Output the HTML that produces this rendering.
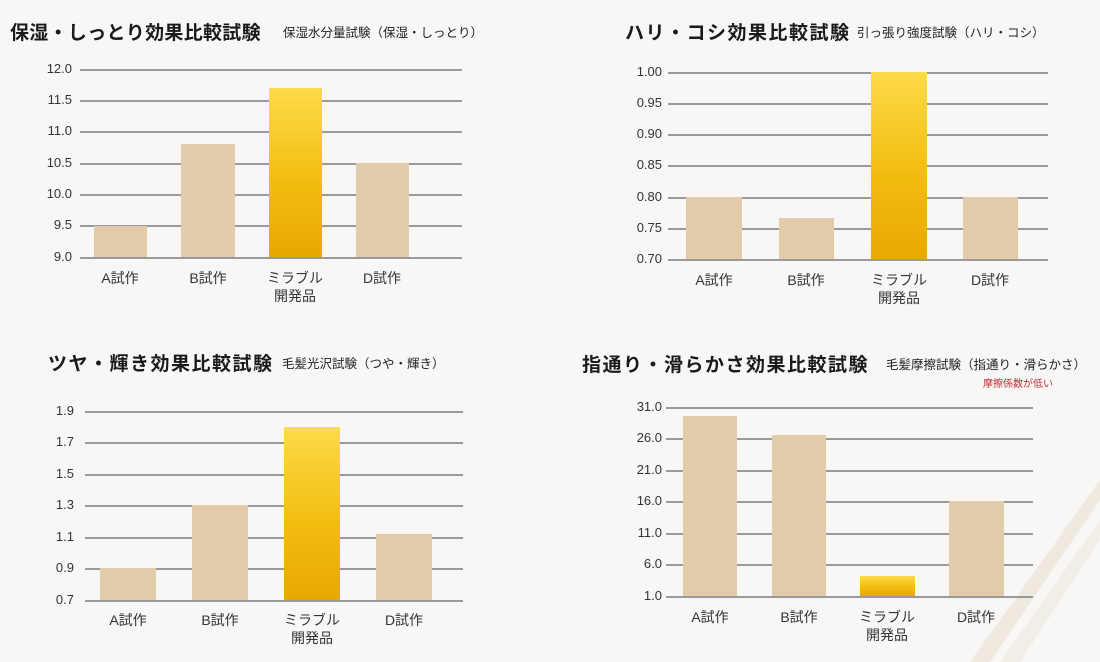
<!DOCTYPE html>
<html><head><meta charset="utf-8"><style>
body{margin:0;width:1100px;height:662px;overflow:hidden;background:#f8f7f5;position:relative;font-family:"Liberation Sans","Noto Sans CJK JP",sans-serif;color:#222}
.a{position:absolute}
.g{position:absolute;height:1.5px;background:#9a9a9a}
.t{position:absolute;font-size:13px;color:#333;text-align:right;width:40px;line-height:14px}
.b{position:absolute;background:#e2cbab}
.y{position:absolute;background:linear-gradient(#fddb4a,#f3bd10 55%,#e8a800)}
.x{position:absolute;font-size:14px;color:#333;text-align:center;width:80px;line-height:18px}
.h{position:absolute;font-size:19px;font-weight:bold;letter-spacing:1.5px;white-space:nowrap;color:#1a1a1a}
.s{position:absolute;font-size:12.5px;white-space:nowrap;color:#222}
</style></head><body>
<svg class="a" style="left:0;top:0" width="1100" height="662"><polygon points="1100,480 1100,500 990,662 970,662" fill="#efe9df"/><polygon points="1100,520 1100,540 1020,662 1000,662" fill="#f2eee7"/></svg>

<!-- TL -->
<div class="h" style="left:10px;top:18px;letter-spacing:0.3px">保湿・しっとり効果比較試験</div>
<div class="s" style="left:283px;top:22px">保湿水分量試験（保湿・しっとり）</div>
<div class="g" style="left:80px;width:382px;top:69px"></div><div class="t" style="left:32px;top:62px">12.0</div>
<div class="g" style="left:80px;width:382px;top:100px"></div><div class="t" style="left:32px;top:93px">11.5</div>
<div class="g" style="left:80px;width:382px;top:131px"></div><div class="t" style="left:32px;top:124px">11.0</div>
<div class="g" style="left:80px;width:382px;top:163px"></div><div class="t" style="left:32px;top:156px">10.5</div>
<div class="g" style="left:80px;width:382px;top:194px"></div><div class="t" style="left:32px;top:187px">10.0</div>
<div class="g" style="left:80px;width:382px;top:225px"></div><div class="t" style="left:32px;top:218px">9.5</div>
<div class="g" style="left:80px;width:382px;top:257px"></div><div class="t" style="left:32px;top:250px">9.0</div>
<div class="b" style="left:94px;width:53px;top:226px;height:31px"></div>
<div class="b" style="left:181px;width:54px;top:144px;height:113px"></div>
<div class="y" style="left:269px;width:53px;top:88px;height:169px"></div>
<div class="b" style="left:356px;width:53px;top:163px;height:94px"></div>
<div class="x" style="left:80px;top:269px">A試作</div>
<div class="x" style="left:168px;top:269px">B試作</div>
<div class="x" style="left:255px;top:269px">ミラブル<br>開発品</div>
<div class="x" style="left:342px;top:269px">D試作</div>

<!-- TR -->
<div class="h" style="left:625px;top:18px">ハリ・コシ効果比較試験</div>
<div class="s" style="left:857px;top:22px">引っ張り強度試験（ハリ・コシ）</div>
<div class="g" style="left:668px;width:380px;top:72px"></div><div class="t" style="left:622px;top:65px">1.00</div>
<div class="g" style="left:668px;width:380px;top:103px"></div><div class="t" style="left:622px;top:96px">0.95</div>
<div class="g" style="left:668px;width:380px;top:134px"></div><div class="t" style="left:622px;top:127px">0.90</div>
<div class="g" style="left:668px;width:380px;top:165px"></div><div class="t" style="left:622px;top:158px">0.85</div>
<div class="g" style="left:668px;width:380px;top:197px"></div><div class="t" style="left:622px;top:190px">0.80</div>
<div class="g" style="left:668px;width:380px;top:228px"></div><div class="t" style="left:622px;top:221px">0.75</div>
<div class="g" style="left:668px;width:380px;top:259px"></div><div class="t" style="left:622px;top:252px">0.70</div>
<div class="b" style="left:686px;width:56px;top:197px;height:62px"></div>
<div class="b" style="left:779px;width:55px;top:218px;height:41px"></div>
<div class="y" style="left:871px;width:56px;top:72px;height:187px"></div>
<div class="b" style="left:963px;width:55px;top:197px;height:62px"></div>
<div class="x" style="left:674px;top:271px">A試作</div>
<div class="x" style="left:766px;top:271px">B試作</div>
<div class="x" style="left:859px;top:271px">ミラブル<br>開発品</div>
<div class="x" style="left:950px;top:271px">D試作</div>

<!-- BL -->
<div class="h" style="left:48px;top:349px">ツヤ・輝き効果比較試験</div>
<div class="s" style="left:282px;top:353px">毛髪光沢試験（つや・輝き）</div>
<div class="g" style="left:85px;width:378px;top:411px"></div><div class="t" style="left:34px;top:404px">1.9</div>
<div class="g" style="left:85px;width:378px;top:442px"></div><div class="t" style="left:34px;top:435px">1.7</div>
<div class="g" style="left:85px;width:378px;top:474px"></div><div class="t" style="left:34px;top:467px">1.5</div>
<div class="g" style="left:85px;width:378px;top:505px"></div><div class="t" style="left:34px;top:498px">1.3</div>
<div class="g" style="left:85px;width:378px;top:537px"></div><div class="t" style="left:34px;top:530px">1.1</div>
<div class="g" style="left:85px;width:378px;top:568px"></div><div class="t" style="left:34px;top:561px">0.9</div>
<div class="g" style="left:85px;width:378px;top:600px"></div><div class="t" style="left:34px;top:593px">0.7</div>
<div class="b" style="left:100px;width:56px;top:568px;height:32px"></div>
<div class="b" style="left:192px;width:56px;top:505px;height:95px"></div>
<div class="y" style="left:284px;width:56px;top:427px;height:173px"></div>
<div class="b" style="left:376px;width:56px;top:534px;height:66px"></div>
<div class="x" style="left:88px;top:611px">A試作</div>
<div class="x" style="left:180px;top:611px">B試作</div>
<div class="x" style="left:272px;top:611px">ミラブル<br>開発品</div>
<div class="x" style="left:364px;top:611px">D試作</div>

<!-- BR -->
<div class="h" style="left:582px;top:350px">指通り・滑らかさ効果比較試験</div>
<div class="s" style="left:886px;top:354px">毛髪摩擦試験（指通り・滑らかさ）</div>
<div class="s" style="left:983px;top:375px;font-size:10px;color:#c0303a">摩擦係数が低い</div>
<div class="g" style="left:666px;width:367px;top:407px"></div><div class="t" style="left:622px;top:400px">31.0</div>
<div class="g" style="left:666px;width:367px;top:438px"></div><div class="t" style="left:622px;top:431px">26.0</div>
<div class="g" style="left:666px;width:367px;top:470px"></div><div class="t" style="left:622px;top:463px">21.0</div>
<div class="g" style="left:666px;width:367px;top:501px"></div><div class="t" style="left:622px;top:494px">16.0</div>
<div class="g" style="left:666px;width:367px;top:533px"></div><div class="t" style="left:622px;top:526px">11.0</div>
<div class="g" style="left:666px;width:367px;top:564px"></div><div class="t" style="left:622px;top:557px">6.0</div>
<div class="g" style="left:666px;width:367px;top:596px"></div><div class="t" style="left:622px;top:589px">1.0</div>
<div class="b" style="left:683px;width:54px;top:416px;height:180px"></div>
<div class="b" style="left:772px;width:54px;top:435px;height:161px"></div>
<div class="y" style="left:860px;width:55px;top:576px;height:20px"></div>
<div class="b" style="left:949px;width:55px;top:501px;height:95px"></div>
<div class="x" style="left:670px;top:608px">A試作</div>
<div class="x" style="left:759px;top:608px">B試作</div>
<div class="x" style="left:847px;top:608px">ミラブル<br>開発品</div>
<div class="x" style="left:936px;top:608px">D試作</div>
</body></html>
